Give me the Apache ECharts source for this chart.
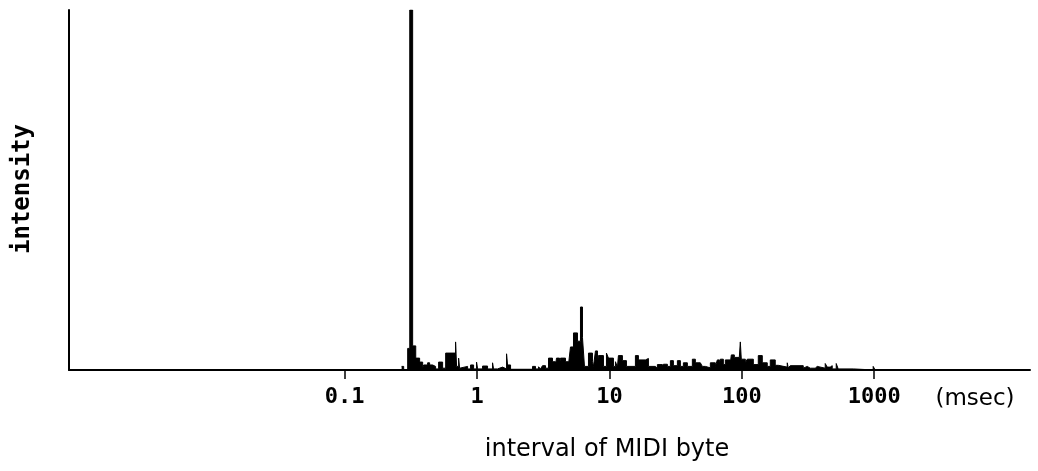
<!DOCTYPE html>
<html>
<head>
<meta charset="utf-8">
<title>interval of MIDI byte</title>
<script src="https://cdn.jsdelivr.net/npm/echarts@6/dist/echarts.min.js"></script>
<style>
	html,body{margin:0;padding:0;background:#fff;}
	#chart{width:1038px;height:471px;}
</style>
</head>
<body>
<div id="chart"></div>
<script>
//1.数据 (左边界 msec, 强度)
var binEdge = [
	0.269, 0.279, 0.299, 0.310, 0.326, 0.344, 0.368, 0.388, 0.395, 0.423,
	0.438, 0.461, 0.486, 0.512, 0.549, 0.579, 0.688, 0.700, 0.725, 0.738,
	0.751, 0.848, 0.893, 0.941, 0.991, 1.009, 1.100, 1.200, 1.309, 1.332,
	1.428, 1.557, 1.670, 1.699, 1.790, 2.624, 2.764, 2.912, 3.015, 3.121,
	3.289, 3.465, 3.713, 3.912, 3.981, 4.194, 4.268, 4.655, 4.905, 5.078,
	5.350, 5.734, 6.041, 6.255, 6.476, 6.943, 7.441, 7.572, 7.840, 8.118,
	8.260, 9.011, 9.493, 9.829, 10.72, 11.10, 11.49, 11.69, 12.53, 13.44,
	15.71, 16.55, 18.70, 19.70, 22.24, 23.03, 25.12, 25.56, 27.40, 28.87,
	30.41, 32.61, 34.35, 36.19, 38.79, 42.30, 44.57, 48.62, 50.34, 53.03,
	57.85, 63.10, 65.33, 67.65, 68.83, 72.52, 75.09, 81.90, 83.34, 87.78,
	95.74, 97.43, 99.13, 106.3, 110.0, 122.2, 133.2, 142.8, 155.7, 164.1,
	178.9, 188.6, 220.5, 224.4, 232.3, 291.2, 301.5, 312.2, 328.9, 340.4,
	358.6, 371.3, 426.8, 441.9, 465.5, 482.0, 516.8, 535.0, 694.3, 885.6,
	982.9, 1017
];
var intensity = [
	1, 0, 6, 100, 6.7, 3.3, 2.2, 0.5, 1.4, 2,
	1.4, 1, 0.3, 2.2, 0.5, 4.7, 7.8, 1, 3.3, 0.5,
	1, 0.3, 1.4, 0.3, 2.2, 0.3, 1.1, 0.3, 2, 0.3,
	0.8, 0.3, 4.5, 1.4, 0.2, 1, 0.3, 0.9, 0.3, 1.2,
	0.5, 3.3, 2.3, 1, 3.3, 1.5, 3.3, 2.3, 1.5, 6.4,
	10.3, 8, 17.5, 9, 1, 4.7, 2.3, 1, 5.3, 2,
	4, 1, 4.7, 3.3, 1, 2.3, 0.8, 4, 2.6, 1,
	4, 2.8, 3.2, 1, 0.5, 1.5, 0.8, 1.6, 1, 2.6,
	1.2, 2.6, 1, 2, 1, 3, 2, 1.5, 1, 0.6,
	2, 1, 2.8, 1.5, 3, 1.5, 2.8, 2, 4.2, 3.5,
	3, 7.8, 3, 2, 3, 1.5, 4, 2, 1, 2.8,
	1.3, 0.8, 2, 0.6, 1.2, 0.5, 1, 0.5, 1, 0.5,
	1, 0.5, 1.8, 0.8, 1.2, 0.3, 1.8, 0.3, 0.1, 0,
	1, 0
];
var tickValues = [0.1, 1, 10, 100, 1000];
var tickLabels = ['0.1', '1', '10', '100', '1000'];

;(function(){
	//2.工具函数
	var util = {
		//按数值找最近的刻度文字
		tickText : function(value){
			var best = 0;
			var bestDiff = Infinity;
			for(var i=0;i<tickValues.length;i++){
				var diff = Math.abs(Math.log(value) - Math.log(tickValues[i]));
				if(diff < bestDiff){
					bestDiff = diff;
					best = i;
				}
			}
			return bestDiff < 0.05 ? tickLabels[best] : '';
		}
	};

	//3.组装数据
	var seriesData = [];
	for(var i=0,len=binEdge.length;i<len;i++){
		seriesData.push([binEdge[i], intensity[i]]);
	}

	var myEchart = echarts.init(document.getElementById('chart'));

	var option = {
		animation : false,
		backgroundColor : '#fff',
		grid : {
			left : 69,
			right : 8,
			top : 10,
			bottom : 101
		},
		xAxis : {
			type : 'log',
			logBase : 10,
			min : 0.000826,
			max : 15040,
			axisLine : {
				lineStyle : {color : '#000', width : 2}
			},
			axisTick : {
				customValues : tickValues,
				length : 9,
				lineStyle : {color : '#000', width : 1.5}
			},
			axisLabel : {
				customValues : tickValues,
				showMinLabel : true,
				showMaxLabel : true,
				hideOverlap : false,
				margin : 16,
				color : '#000',
				fontFamily : 'DejaVu Sans Mono',
				fontWeight : 'bold',
				fontSize : 22,
				formatter : function(value){
					return util.tickText(value);
				}
			},
			splitLine : {show : false}
		},
		yAxis : {
			type : 'value',
			min : 0,
			max : 100,
			axisLine : {
				show : true,
				lineStyle : {color : '#000', width : 2}
			},
			axisTick : {show : false},
			axisLabel : {show : false},
			splitLine : {show : false}
		},
		series : [
			{
				type : 'line',
				step : 'end',
				symbol : 'none',
				lineStyle : {color : '#000', width : 1},
				areaStyle : {color : '#000', opacity : 1},
				data : seriesData
			}
		],
		graphic : [
			{
				type : 'text',
				x : 23,
				y : 189,
				rotation : Math.PI / 2,
				style : {
					text : 'intensity',
					fill : '#000',
					fontFamily : 'DejaVu Sans Mono',
					fontWeight : 'bold',
					fontSize : 24,
					align : 'center',
					verticalAlign : 'middle'
				}
			},
			{
				type : 'text',
				x : 975,
				y : 399,
				style : {
					text : '(msec)',
					fill : '#000',
					fontFamily : 'DejaVu Sans',
					fontSize : 23,
					align : 'center',
					verticalAlign : 'middle'
				}
			},
			{
				type : 'text',
				x : 607,
				y : 450,
				style : {
					text : 'interval of MIDI byte',
					fill : '#000',
					fontFamily : 'DejaVu Sans',
					fontSize : 24,
					align : 'center',
					verticalAlign : 'middle'
				}
			}
		]
	};

	myEchart.setOption(option);
})();
</script>
</body>
</html>
